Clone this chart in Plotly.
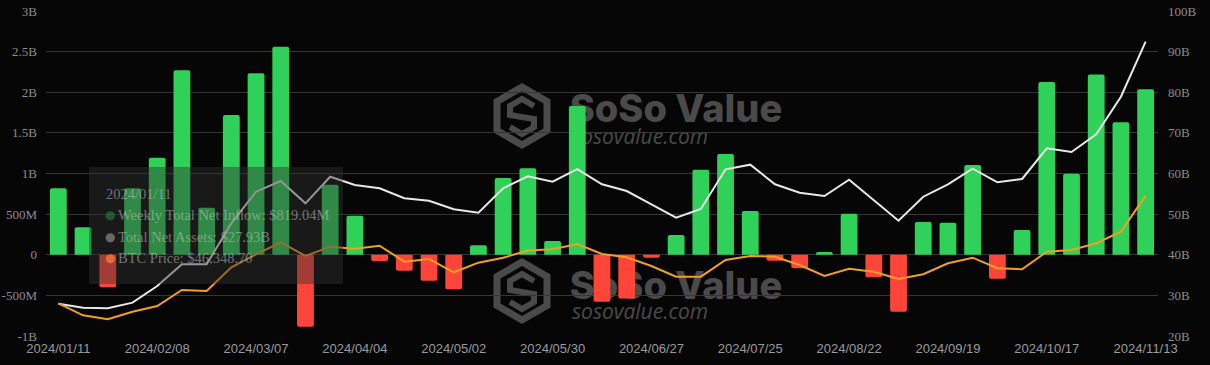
import plotly.graph_objects as go

dates = ["2024/01/11", "2024/01/18", "2024/01/25", "2024/02/01", "2024/02/08", "2024/02/15",
         "2024/02/22", "2024/02/29", "2024/03/07", "2024/03/14", "2024/03/21", "2024/03/28",
         "2024/04/04", "2024/04/11", "2024/04/18", "2024/04/25", "2024/05/02", "2024/05/09",
         "2024/05/16", "2024/05/23", "2024/05/30", "2024/06/06", "2024/06/13", "2024/06/20",
         "2024/06/27", "2024/07/04", "2024/07/11", "2024/07/18", "2024/07/25", "2024/08/01",
         "2024/08/08", "2024/08/15", "2024/08/22", "2024/08/29", "2024/09/05", "2024/09/12",
         "2024/09/19", "2024/09/26", "2024/10/03", "2024/10/10", "2024/10/17", "2024/10/24",
         "2024/10/31", "2024/11/07", "2024/11/13"]

# Weekly total net inflow (USD)
net_inflow = [819.04e6, 340e6, -400e6, 820e6, 1195e6, 2270e6, 580e6, 1720e6, 2235e6, 2560e6,
              -885e6, 862e6, 480e6, -77e6, -196e6, -320e6, -425e6, 116e6, 945e6, 1064e6,
              169e6, 1830e6, -578e6, -537e6, -36e6, 243e6, 1045e6, 1240e6, 538e6, -73e6,
              -167e6, 34e6, 505e6, -276e6, -700e6, 403e6, 395e6, 1105e6, -294e6, 305e6,
              2126e6, 998e6, 2217e6, 1630e6, 2036e6]

# Total net assets (USD)
total_assets = [27.93e9, 26.97e9, 26.82e9, 28.2e9, 32.3e9, 37.65e9, 37.65e9, 47.74e9, 55.52e9,
                58.15e9, 52.66e9, 59.21e9, 57.17e9, 56.36e9, 53.9e9, 53.3e9, 51.19e9, 50.35e9,
                56.36e9, 59.3e9, 57.98e9, 61.1e9, 57.34e9, 55.69e9, 52.42e9, 49.12e9, 51.26e9,
                61.03e9, 62.17e9, 57.34e9, 55.27e9, 54.46e9, 58.47e9, 53.48e9, 48.38e9,
                54.29e9, 57.34e9, 61.18e9, 57.83e9, 58.65e9, 66.2e9, 65.29e9, 69.65e9,
                78.9e9, 92.44e9]

# BTC price (USD)
btc_price = [46348.70, 41453, 39821, 42922, 45247, 51775, 51367, 61037, 66341, 71237,
             65647, 69442, 68626, 69850, 63322, 64423, 58997, 62914, 64954, 67891,
             68381, 70543, 66463, 65117, 61567, 57202, 57202, 64015, 65647, 65362,
             61975, 57487, 60466, 59242, 56263, 58181, 62669, 64954, 60629, 60221,
             67402, 68095, 70829, 75562, 90250]

left_tickvals = [-1e9, -0.5e9, 0, 0.5e9, 1e9, 1.5e9, 2e9, 2.5e9, 3e9]
left_ticktext = ["-1B", "-500M", "0", "500M", "1B", "1.5B", "2B", "2.5B", "3B"]
right_tickvals = [20e9, 30e9, 40e9, 50e9, 60e9, 70e9, 80e9, 90e9, 100e9]
right_ticktext = ["20B", "30B", "40B", "50B", "60B", "70B", "80B", "90B", "100B"]
x_tickvals = dates[::4]

GREEN = "#30d158"
RED = "#ff453a"
WHITE = "#e8e8e8"
ORANGE = "#f0a020"
BG = "#060606"

W, H = 1210, 365
L, R, T, B = 46, 1158, 11, 336


def px(x):
    return (x - L) / (R - L)


def py(y):
    return (B - y) / (B - T)


fig = go.Figure()

fig.add_trace(go.Bar(
    x=dates, y=net_inflow, name="Weekly Total Net Inflow",
    marker=dict(color=[GREEN if v >= 0 else RED for v in net_inflow], line=dict(width=0)),
    yaxis="y", hoverinfo="skip",
))
fig.add_trace(go.Scatter(
    x=dates, y=total_assets, name="Total Net Assets", mode="lines",
    line=dict(color=WHITE, width=2), yaxis="y2", hoverinfo="skip",
))
fig.add_trace(go.Scatter(
    x=dates, y=btc_price, name="BTC Price", mode="lines",
    line=dict(color=ORANGE, width=2), yaxis="y3", hoverinfo="skip",
))

tickfont = dict(family="Liberation Serif", size=13, color="#8c8c8c")

fig.update_layout(
    width=W, height=H,
    margin=dict(l=L, r=W - R, t=T, b=H - B, autoexpand=False),
    paper_bgcolor=BG,
    plot_bgcolor="rgba(0,0,0,0)",
    showlegend=False,
    bargap=0.32,
    barcornerradius=2,
    hovermode=False,
    xaxis=dict(
        type="category", categoryorder="array", categoryarray=dates,
        tickmode="array", tickvals=x_tickvals, ticktext=x_tickvals,
        showgrid=False, zeroline=False, showline=False, ticks="",
        tickfont=dict(family="Liberation Sans", size=13, color="#9a9a9a"),
        range=[-0.5, len(dates) - 0.5], automargin=False, ticklabelstandoff=3,
    ),
    yaxis=dict(
        range=[-1e9, 3e9], tickmode="array", tickvals=left_tickvals, ticktext=left_ticktext,
        showgrid=True, gridcolor="#363636", gridwidth=1, zeroline=False, showline=False,
        tickfont=tickfont, ticks="", ticklabelstandoff=8, automargin=False,
    ),
    yaxis2=dict(
        range=[20e9, 100e9], overlaying="y", side="right", tickmode="array",
        tickvals=right_tickvals, ticktext=right_ticktext, showgrid=False, zeroline=False,
        showline=False, tickfont=tickfont, ticks="", ticklabelstandoff=9, automargin=False,
    ),
    yaxis3=dict(
        range=[33000, 165600], overlaying="y", visible=False, showgrid=False, zeroline=False,
        automargin=False,
    ),
)

# Watermarks (below traces)
WM = "rgba(74,74,74,1)"
shapes = []
annotations = []
for cy in (116, 291):
    hx, hw, hh = 522, 25, 29
    hexpath = (f"M {px(hx)} {py(cy - hh)} L {px(hx + hw)} {py(cy - hh / 2)} "
               f"L {px(hx + hw)} {py(cy + hh / 2)} L {px(hx)} {py(cy + hh)} "
               f"L {px(hx - hw)} {py(cy + hh / 2)} L {px(hx - hw)} {py(cy - hh / 2)} Z")
    shapes.append(dict(type="path", path=hexpath, xref="paper", yref="paper", layer="below",
                       line=dict(color=WM, width=7), fillcolor="rgba(0,0,0,0)"))
    spath = (f"M {px(hx + 12)} {py(cy - 10)} L {px(hx)} {py(cy - 17)} L {px(hx - 12)} {py(cy - 10)} "
             f"L {px(hx - 12)} {py(cy - 1)} L {px(hx + 12)} {py(cy + 3)} L {px(hx + 12)} {py(cy + 11)} "
             f"L {px(hx)} {py(cy + 18)} L {px(hx - 12)} {py(cy + 11)}")
    shapes.append(dict(type="path", path=spath, xref="paper", yref="paper", layer="below",
                       line=dict(color=WM, width=6)))
    ty = cy - 9 if cy == 116 else cy - 7
    shapes.append(dict(type="rect", xref="paper", yref="paper", layer="below",
                       x0=px(568), x1=px(784), y0=py(ty + 20), y1=py(ty - 20),
                       line=dict(width=0), fillcolor="rgba(0,0,0,0)",
                       label=dict(text="SoSo Value", textposition="middle center",
                                  font=dict(family="Inter", size=38, color=WM, weight=800))))
    sy = cy + 21
    shapes.append(dict(type="rect", xref="paper", yref="paper", layer="below",
                       x0=px(566), x1=px(712), y0=py(sy + 12), y1=py(sy - 12),
                       line=dict(width=0), fillcolor="rgba(0,0,0,0)",
                       label=dict(text="sosovalue.com", textposition="middle left",
                                  font=dict(family="Open Sans", size=21, color=WM, style="italic"))))

# Tooltip overlay (above traces)
shapes.append(dict(type="rect", xref="paper", yref="paper", layer="above",
                   x0=px(89), x1=px(343), y0=py(284), y1=py(167),
                   line=dict(width=0), fillcolor="rgba(48,48,48,0.45)"))

tip_font = dict(family="Liberation Serif", size=14.5, color="rgba(195,195,195,0.55)")
annotations.append(dict(text=dates[0], x=px(104), y=py(194), xref="paper", yref="paper",
                        xanchor="left", yanchor="middle", showarrow=False, font=tip_font))
rows = [
    ("Weekly Total Net Inflow: $819.04M", "rgba(40,170,70,0.45)", 215),
    ("Total Net Assets: $27.93B", "rgba(160,160,160,0.6)", 237),
    ("BTC Price: $46,348.70", "rgba(255,120,50,0.75)", 258),
]
for label, dot_color, yy in rows:
    annotations.append(dict(text="●", x=px(110), y=py(yy), xref="paper", yref="paper",
                            xanchor="center", yanchor="middle", showarrow=False,
                            font=dict(family="DejaVu Sans", size=12, color=dot_color)))
    annotations.append(dict(text=label, x=px(116), y=py(yy), xref="paper", yref="paper",
                            xanchor="left", yanchor="middle", showarrow=False, font=tip_font))

fig.update_layout(shapes=shapes, annotations=annotations)

fig.write_html(
    "out.html",
    config=dict(displayModeBar=False),
    post_script=(f"document.body.style.margin='0';document.body.style.background='{BG}';"
                 "document.body.style.overflow='hidden';"),
)
